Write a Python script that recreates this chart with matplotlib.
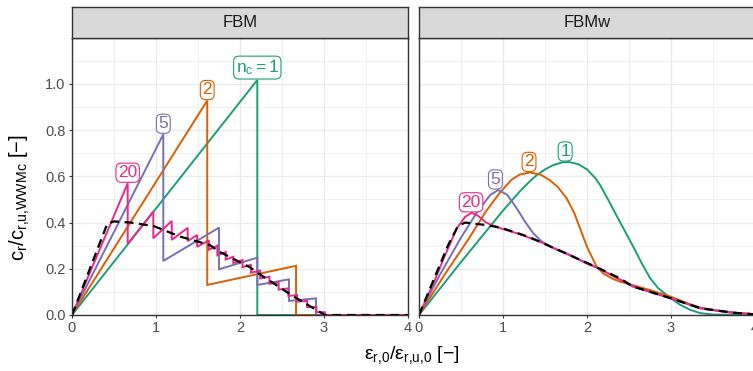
import numpy as np
import matplotlib.pyplot as plt

plt.rcParams['font.family'] = ['Liberation Sans', 'DejaVu Sans']
plt.rcParams['mathtext.fontset'] = 'custom'
plt.rcParams['mathtext.rm'] = 'Liberation Sans'
plt.rcParams['mathtext.it'] = 'Liberation Sans'

col = {1: '#1B9E77', 2: '#D95F02', 5: '#7570B3', 20: '#E7298A'}

# --- FBM (discrete fibre bundles) ---
fbm1_x = [0, 2.206, 2.206, 4]
fbm1_y = [0, 1.017, 0, 0]
fbm2_x = [0, 1.61, 1.61, 2.667, 2.667, 4]
fbm2_y = [0, 0.928, 0.130, 0.213, 0, 0]
fbm5_x = [0, 1.087, 1.087, 1.75, 1.75, 2.206, 2.206, 2.583, 2.583, 2.905, 2.905, 4]
fbm5_y = [0, 0.782, 0.234, 0.378, 0.198, 0.248, 0.130, 0.154, 0.061, 0.072, 0, 0]
# breaking strains and the force just before / after each break
fbm20_e = [0.663, 0.968, 1.187, 1.377, 1.49, 1.63, 1.73, 1.83, 1.92, 2.03,
           2.13, 2.24, 2.35, 2.46, 2.575, 2.68, 2.80, 2.91, 3.01]
fbm20_peak = [0.570, 0.448, 0.407, 0.377, 0.346, 0.323, 0.300, 0.273, 0.252, 0.238,
              0.217, 0.192, 0.166, 0.141, 0.115, 0.086, 0.061, 0.035, 0.012]
fbm20_valley = [0.307, 0.332, 0.325, 0.320, 0.295, 0.283, 0.258, 0.240, 0.225, 0.207,
                0.183, 0.158, 0.135, 0.110, 0.083, 0.058, 0.034, 0.012, 0.0]
fbm_inf_x = [0, 0.42, 0.5, 0.7, 0.97, 1.29, 1.64, 1.75, 2.12, 2.22, 2.63, 3.01, 4]
fbm_inf_y = [0, 0.395, 0.405, 0.40, 0.385, 0.339, 0.303, 0.275, 0.206, 0.180, 0.082, 0, 0]

fbm20_x = [0]
fbm20_y = [0]
for e, p, v in zip(fbm20_e, fbm20_peak, fbm20_valley):
    fbm20_x += [e, e]
    fbm20_y += [p, v]
fbm20_x.append(4)
fbm20_y.append(0)

# --- FBMw (Weibull-distributed bundles) ---
w1_x = [0, 0.5, 1.0, 1.2, 1.3, 1.4, 1.5, 1.6, 1.7, 1.75, 1.8, 1.9, 2.0, 2.1, 2.155,
        2.25, 2.39, 2.5, 2.55, 2.65, 2.75, 2.85, 3.0, 3.1, 3.23, 3.35, 3.5, 4]
w1_y = [0, 0.229, 0.452, 0.535, 0.572, 0.605, 0.630, 0.649, 0.660, 0.662, 0.661, 0.652,
        0.630, 0.592, 0.563, 0.500, 0.404, 0.330, 0.296, 0.225, 0.160, 0.115, 0.072,
        0.046, 0.022, 0.008, 0.002, 0]
w2_x = [0, 0.3, 0.583, 0.8, 0.964, 1.1, 1.2, 1.32, 1.45, 1.55, 1.65, 1.758, 1.85, 1.917,
        2.0, 2.115, 2.2, 2.3, 2.393, 2.5, 2.75, 3.0, 3.2, 3.35, 3.55, 3.74, 4]
w2_y = [0, 0.172, 0.325, 0.450, 0.530, 0.585, 0.608, 0.617, 0.607, 0.585, 0.555, 0.505,
        0.440, 0.375, 0.295, 0.209, 0.178, 0.158, 0.144, 0.134, 0.108, 0.079, 0.050,
        0.032, 0.018, 0.010, 0.003]
w5_x = [0, 0.25, 0.5, 0.7, 0.85, 0.944, 1.05, 1.163, 1.26, 1.36, 1.46, 1.56, 1.66,
        1.758, 1.9, 2.0, 2.155, 2.55, 3.0, 3.35, 3.74, 4]
w5_y = [0, 0.175, 0.335, 0.450, 0.520, 0.541, 0.520, 0.462, 0.405, 0.354, 0.318, 0.296,
        0.280, 0.267, 0.240, 0.222, 0.199, 0.123, 0.072, 0.029, 0.010, 0.003]
w20_x = [0, 0.187, 0.3, 0.45, 0.55, 0.627, 0.7, 0.8, 0.925, 1.2, 1.44, 2.155, 2.55, 3.0,
         3.35, 3.74, 4]
w20_y = [0, 0.150, 0.250, 0.375, 0.425, 0.442, 0.430, 0.400, 0.380, 0.350, 0.317, 0.199,
         0.123, 0.072, 0.029, 0.010, 0.003]
w_inf_x = [0, 0.2, 0.35, 0.464, 0.55, 0.78, 0.964, 1.30, 1.44, 2.155, 2.39, 2.55, 3.0,
           3.35, 3.74, 4]
w_inf_y = [0, 0.175, 0.305, 0.385, 0.400, 0.390, 0.379, 0.339, 0.317, 0.200, 0.159,
           0.123, 0.072, 0.029, 0.010, 0.003]

fbm_curves = [(fbm1_x, fbm1_y, 1), (fbm2_x, fbm2_y, 2), (fbm5_x, fbm5_y, 5), (fbm20_x, fbm20_y, 20)]
fbmw_curves = [(w1_x, w1_y, 1), (w2_x, w2_y, 2), (w5_x, w5_y, 5), (w20_x, w20_y, 20)]

# label anchors at the peak of each curve
fbm_labels = {1: (2.206, 1.017, r'$\mathregular{n_c = 1}$'), 2: (1.61, 0.928, '2'),
              5: (1.087, 0.782, '5'), 20: (0.663, 0.570, '20')}
fbmw_labels = {1: (1.74, 0.662, '1'), 2: (1.31, 0.617, '2'),
               5: (0.91, 0.541, '5'), 20: (0.62, 0.442, '20')}

W, H = 753, 371
fig = plt.figure(figsize=(W / 100, H / 100), dpi=100)


def fx(px):
    return px / W


def fy(py):
    return 1 - py / H


panels = [
    ('FBM', 72, 408, fbm_curves, fbm_inf_x, fbm_inf_y, fbm_labels),
    ('FBMw', 419, 755, fbmw_curves, w_inf_x, w_inf_y, fbmw_labels),
]
top, bottom, strip_top = 37.7, 315, 7

axes = []
for i, (name, x0, x1, curves, dx, dy, labels) in enumerate(panels):
    ax = fig.add_axes([fx(x0), fy(bottom), fx(x1 - x0), (bottom - top) / H])
    axes.append(ax)
    ax.set_xlim(0, 4)
    ax.set_ylim(0, 1.2)
    ax.set_xticks([0, 1, 2, 3, 4])
    ax.set_xticks(np.arange(0.5, 4, 1), minor=True)
    ax.set_yticks([0, 0.2, 0.4, 0.6, 0.8, 1.0])
    ax.set_yticks(np.arange(0.1, 1.2, 0.2), minor=True)
    ax.grid(which='major', color='#EBEBEB', lw=1.0)
    ax.grid(which='minor', color='#EBEBEB', lw=0.5)
    ax.set_axisbelow(True)
    ax.tick_params(which='major', length=2.5, width=0.8, color='#333333',
                   labelsize=10.5, labelcolor='#4D4D4D', pad=2)
    ax.tick_params(which='minor', length=0)
    for s in ax.spines.values():
        s.set_color('#333333')
        s.set_linewidth(1.0)
    if i == 0:
        ax.yaxis.set_major_formatter(plt.FuncFormatter(lambda v, p: f'{v:.1f}'))
    else:
        ax.tick_params(axis='y', labelleft=False, length=0)

    for xs, ys, n in curves:
        ax.plot(xs, ys, color=col[n], lw=1.4, solid_joinstyle='miter')
    ax.plot(dx, dy, color='black', lw=1.6, ls=(0, (4, 2.5)))

    for n, (lx, ly, txt) in labels.items():
        ax.annotate(txt, (lx, ly), xytext=(0, 2.2), textcoords='offset points',
                    ha='center', va='bottom', color=col[n], fontsize=12.5,
                    bbox=dict(boxstyle='round,pad=0.12,rounding_size=0.3',
                              fc='white', ec=col[n], lw=0.8))

    # facet strip
    sax = fig.add_axes([fx(x0), fy(top), fx(x1 - x0), (top - strip_top) / H])
    sax.set_xticks([])
    sax.set_yticks([])
    sax.set_facecolor('#D9D9D9')
    for s in sax.spines.values():
        s.set_color('#333333')
        s.set_linewidth(1.0)
    sax.text(0.5, 0.5, name, ha='center', va='center', fontsize=12,
             color='#1A1A1A', transform=sax.transAxes)

fig.text(fx(20), fy(198), r'$\mathregular{c_r/c_{r{,}u{,}WWMc}}$ [−]', rotation=90,
         ha='center', va='center', fontsize=14.5)
fig.text(fx(412), fy(355), r'$\mathregular{ε_{r{,}0}/ε_{r{,}u{,}0}}$ [−]',
         ha='center', va='center', fontsize=14)

fig.savefig('out.png', dpi=100)
